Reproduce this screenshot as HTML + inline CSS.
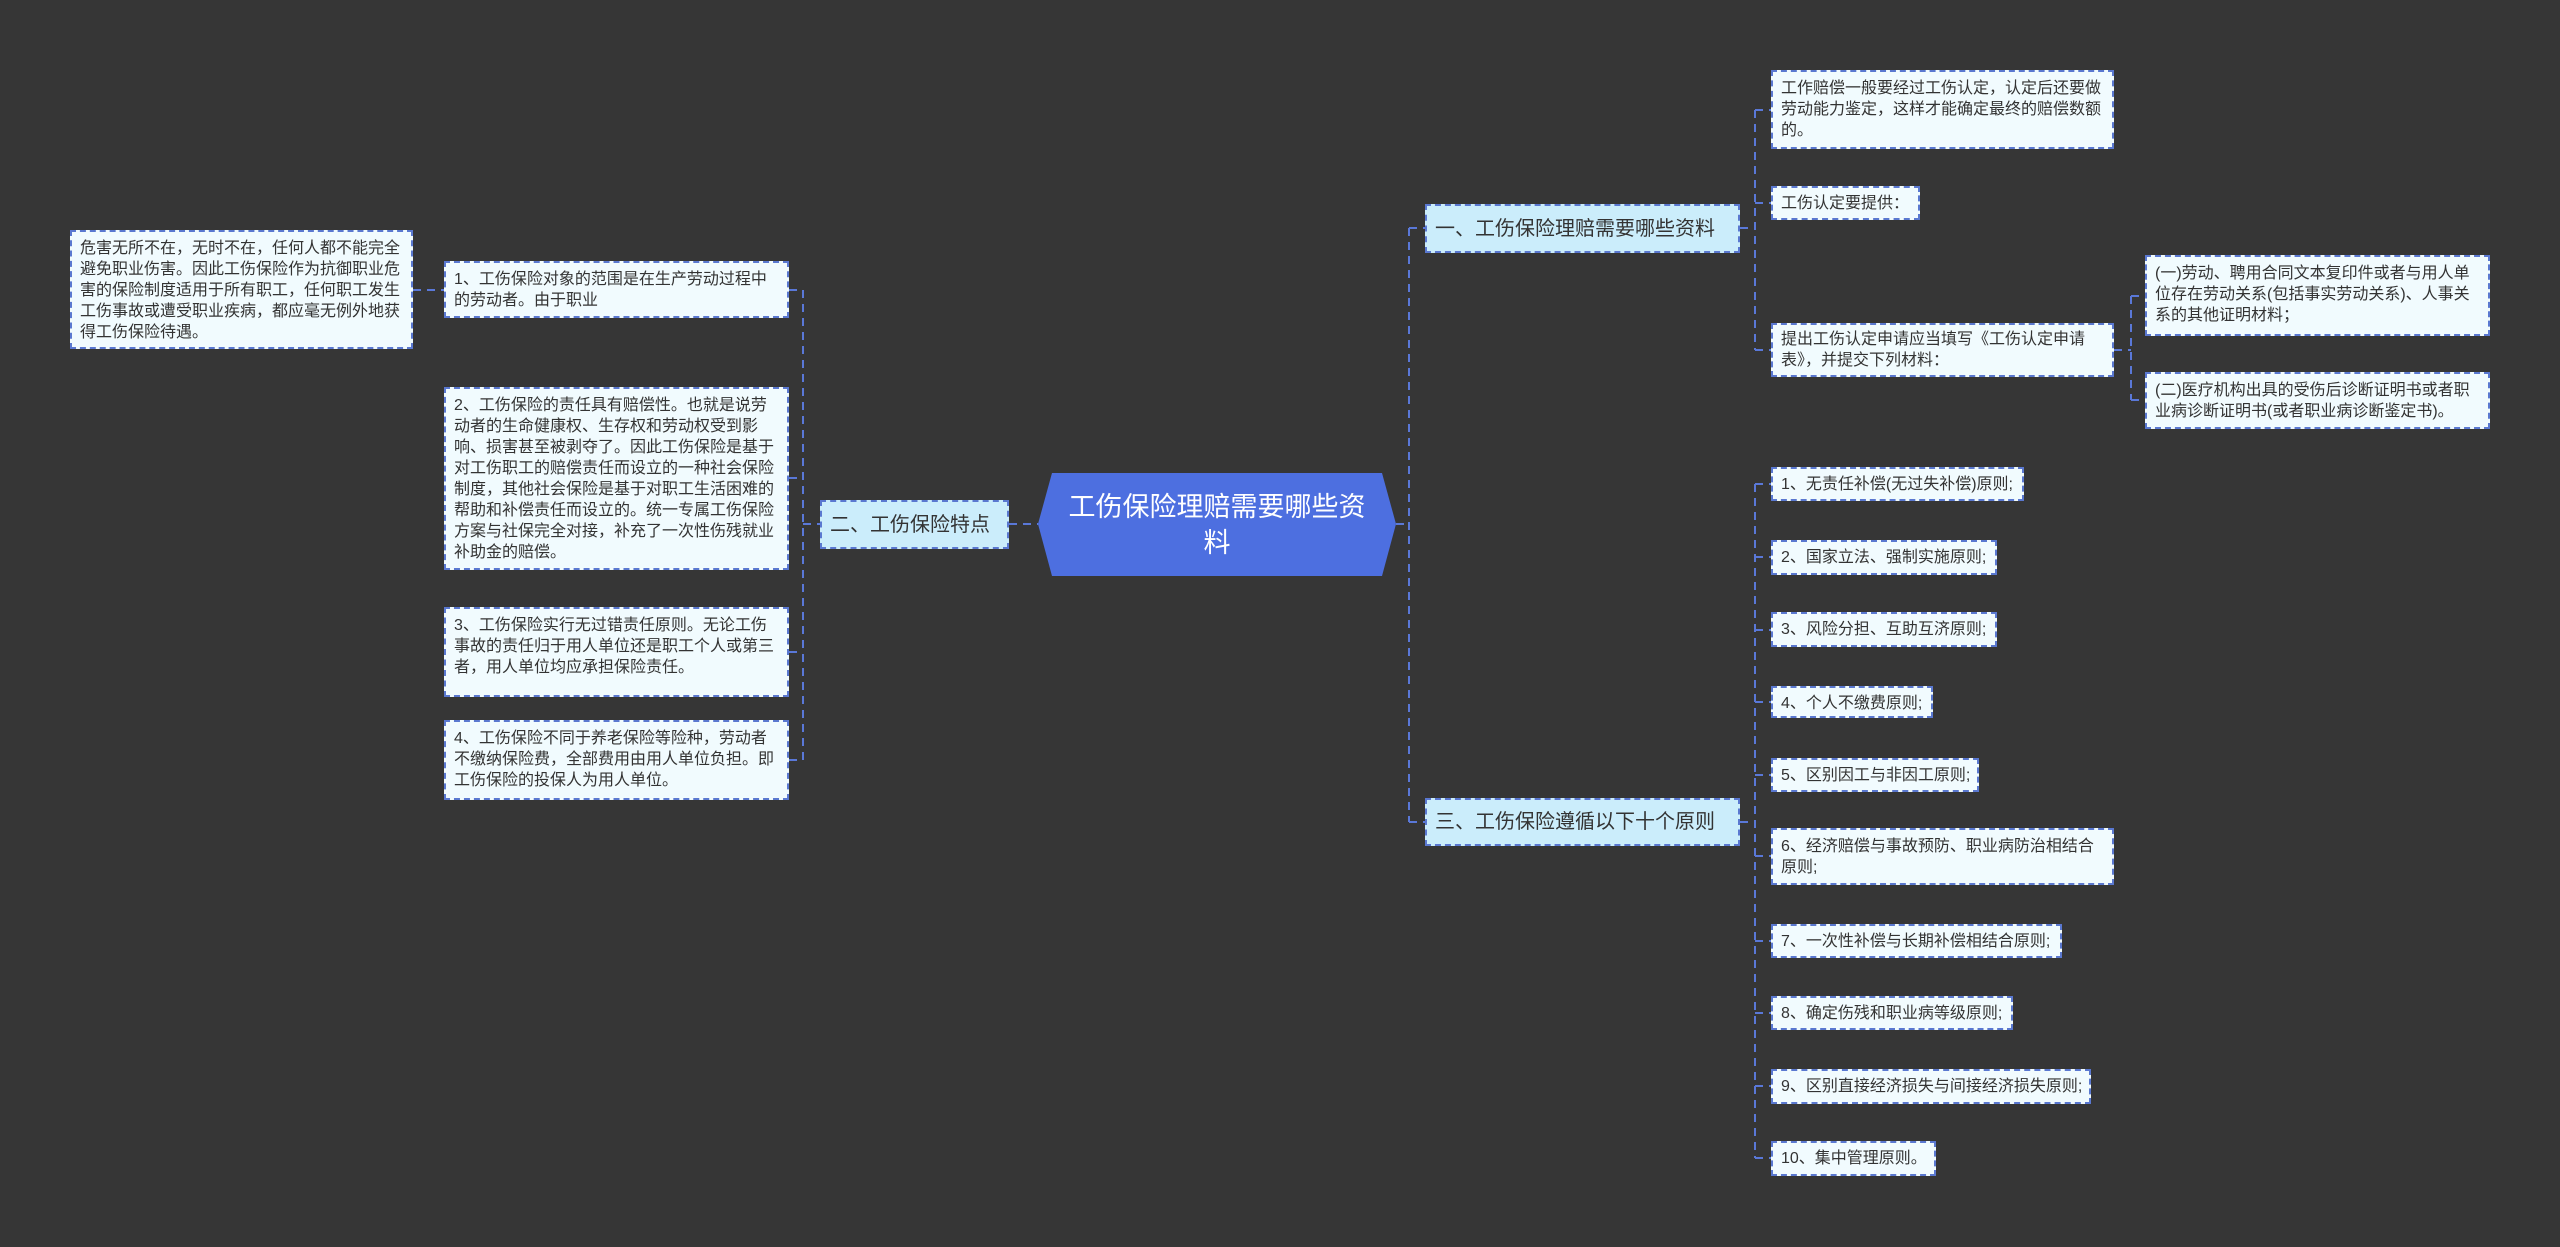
<!DOCTYPE html>
<html><head><meta charset="utf-8"><style>
html,body{margin:0;padding:0;}
body{width:2560px;height:1247px;background:#363636;position:relative;overflow:hidden;font-family:"Liberation Sans","Noto Sans CJK SC",sans-serif;}
.b{position:absolute;box-sizing:border-box;background:#f1fbfe;border:2px dashed #5a78d0;color:#333;font-size:16px;line-height:21px;padding:6px 8px;letter-spacing:0;}
.s{white-space:nowrap;padding:5px 8px;}
.l1{position:absolute;box-sizing:border-box;background:#cbedfb;border:2px dashed #5a78d0;color:#333;font-size:20px;line-height:26px;padding:0 8px;display:flex;align-items:center;white-space:nowrap;}
.c{position:absolute;left:1038px;top:473px;width:358px;height:103px;color:#fff;font-size:27px;line-height:36px;text-align:center;display:flex;align-items:center;justify-content:center;}
svg{position:absolute;left:0;top:0;}
</style></head><body>
<svg width="2560" height="1247">
<polygon points="1052,473 1382,473 1396,524 1382,576 1052,576 1038,524" fill="#4d6fe0"/>
<g stroke="#5a78d8" stroke-width="2" stroke-dasharray="8,6" fill="none">
<path d="M1009 524 H1038"/>
<path d="M803 290 V760"/>
<path d="M789 290 H803 M789 478 H803 M789 652 H803 M789 760 H803 M803 524 H820"/>
<path d="M413 290 H444"/>
<path d="M1396 524 H1409 M1409 228 V822 M1409 228 H1425 M1409 822 H1425"/>
<path d="M1740 228 H1755 M1755 110 V350 M1755 110 H1771 M1755 203 H1771 M1755 350 H1771"/>
<path d="M2114 350 H2131 M2131 296 V400 M2131 296 H2145 M2131 400 H2145"/>
<path d="M1740 822 H1755 M1755 484 V1158 M1755 484 H1771 M1755 557 H1771 M1755 630 H1771 M1755 702 H1771 M1755 775 H1771 M1755 856 H1771 M1755 941 H1771 M1755 1013 H1771 M1755 1086 H1771 M1755 1158 H1771"/>
</g>
</svg>
<div class="c">工伤保险理赔需要哪些资<br>料</div>

<div class="l1" style="left:820px;top:500px;width:189px;height:49px;">二、工伤保险特点</div>
<div class="b" style="left:70px;top:230px;width:343px;height:119px;">危害无所不在，无时不在，任何人都不能完全避免职业伤害。因此工伤保险作为抗御职业危害的保险制度适用于所有职工，任何职工发生工伤事故或遭受职业疾病，都应毫无例外地获得工伤保险待遇。</div>
<div class="b" style="left:444px;top:261px;width:345px;height:57px;">1、工伤保险对象的范围是在生产劳动过程中的劳动者。由于职业</div>
<div class="b" style="left:444px;top:387px;width:345px;height:183px;">2、工伤保险的责任具有赔偿性。也就是说劳动者的生命健康权、生存权和劳动权受到影响、损害甚至被剥夺了。因此工伤保险是基于对工伤职工的赔偿责任而设立的一种社会保险制度，其他社会保险是基于对职工生活困难的帮助和补偿责任而设立的。统一专属工伤保险方案与社保完全对接，补充了一次性伤残就业补助金的赔偿。</div>
<div class="b" style="left:444px;top:607px;width:345px;height:90px;">3、工伤保险实行无过错责任原则。无论工伤事故的责任归于用人单位还是职工个人或第三者，用人单位均应承担保险责任。</div>
<div class="b" style="left:444px;top:720px;width:345px;height:80px;">4、工伤保险不同于养老保险等险种，劳动者不缴纳保险费，全部费用由用人单位负担。即工伤保险的投保人为用人单位。</div>

<div class="l1" style="left:1425px;top:204px;width:315px;height:49px;">一、工伤保险理赔需要哪些资料</div>
<div class="l1" style="left:1425px;top:798px;width:315px;height:48px;">三、工伤保险遵循以下十个原则</div>

<div class="b" style="left:1771px;top:70px;width:343px;height:79px;">工作赔偿一般要经过工伤认定，认定后还要做劳动能力鉴定，这样才能确定最终的赔偿数额的。</div>
<div class="b s" style="left:1771px;top:186px;width:149px;height:34px;">工伤认定要提供：</div>
<div class="b" style="left:1771px;top:323px;width:343px;height:54px;padding-top:4px;">提出工伤认定申请应当填写《工伤认定申请表》，并提交下列材料：</div>
<div class="b" style="left:2145px;top:255px;width:345px;height:81px;">(一)劳动、聘用合同文本复印件或者与用人单位存在劳动关系(包括事实劳动关系)、人事关系的其他证明材料；</div>
<div class="b" style="left:2145px;top:372px;width:345px;height:57px;">(二)医疗机构出具的受伤后诊断证明书或者职业病诊断证明书(或者职业病诊断鉴定书)。</div>

<div class="b s" style="left:1771px;top:467px;width:253px;height:34px;">1、无责任补偿(无过失补偿)原则;</div>
<div class="b s" style="left:1771px;top:540px;width:226px;height:35px;">2、国家立法、强制实施原则;</div>
<div class="b s" style="left:1771px;top:612px;width:226px;height:35px;">3、风险分担、互助互济原则;</div>
<div class="b s" style="left:1771px;top:686px;width:162px;height:32px;">4、个人不缴费原则;</div>
<div class="b s" style="left:1771px;top:758px;width:208px;height:34px;">5、区别因工与非因工原则;</div>
<div class="b" style="left:1771px;top:828px;width:343px;height:57px;">6、经济赔偿与事故预防、职业病防治相结合原则;</div>
<div class="b s" style="left:1771px;top:924px;width:291px;height:34px;">7、一次性补偿与长期补偿相结合原则;</div>
<div class="b s" style="left:1771px;top:996px;width:242px;height:34px;">8、确定伤残和职业病等级原则;</div>
<div class="b s" style="left:1771px;top:1069px;width:320px;height:35px;">9、区别直接经济损失与间接经济损失原则;</div>
<div class="b s" style="left:1771px;top:1141px;width:165px;height:35px;">10、集中管理原则。</div>
</body></html>
